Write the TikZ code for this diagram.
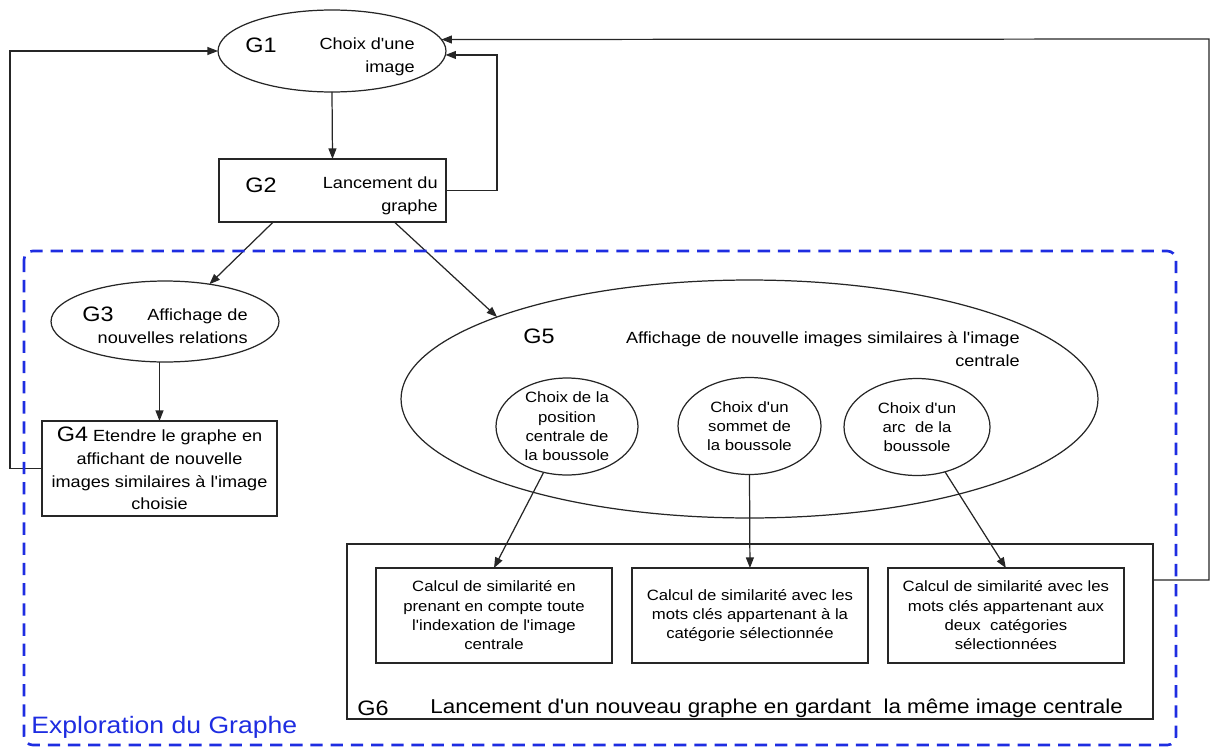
\documentclass[tikz,border=0pt]{standalone}
\usepackage{fontspec}
\setmainfont{Liberation Sans}[FakeStretch=1.12, Ligatures=TeXOff]
\usepackage{tikz}
\usetikzlibrary{shapes.geometric, arrows.meta, positioning}
\definecolor{exploblue}{RGB}{30,45,225}
\tikzstyle{arrow}=[-{Triangle[length=6pt,width=4.5pt]}, line width=0.7pt, color=black!85]
\newcommand{\gidfont}{\fontsize{11.9pt}{14pt}\selectfont}
\newcommand{\descfont}{\fontsize{9.2pt}{13pt}\selectfont}
\newcommand{\choicefont}{\fontsize{8.5pt}{11pt}\selectfont}
\newcommand{\stagefont}{\fontsize{11.4pt}{14pt}\selectfont}
\newcommand{\explofont}{\fontsize{13.5pt}{16pt}\selectfont}

\begin{document}
\begin{tikzpicture}[x=0.02cm, y=-0.02cm,
  stage/.style={rectangle, draw=black!85, line width=0.7pt, inner sep=0pt, outer sep=0pt},
  oval/.style={ellipse, draw=black!85, line width=0.7pt, inner sep=0pt, outer sep=0pt},
  gid/.style={font=\gidfont, inner sep=0pt},
  desc/.style={font=\descfont, inner sep=0pt},
  choice/.style={oval, minimum height=1.94cm},
  choicetxt/.style={font=\choicefont, align=center, inner sep=0pt},
  calcbox/.style={stage, minimum width=4.72cm, minimum height=1.9cm,
                  align=center, font=\choicefont}
]
\useasboundingbox (0,0) rectangle (1213,747);

\node[oval, minimum width=4.56cm, minimum height=1.64cm] (g1) at (332,51) {};
\node[gid, anchor=west] (g1id) at (245,45) {G1};
\node[desc, align=right, anchor=east] (g1txt) at (415,57) {Choix d'une\\image};

\node[stage, minimum width=4.54cm, minimum height=1.26cm] (g2) at (332.5,190.5) {};
\node[gid, anchor=west] (g2id) at (245,185) {G2};
\node[desc, align=right, anchor=east] (g2txt) at (438,196) {Lancement du\\graphe};

\node[oval, minimum width=4.56cm, minimum height=1.62cm] (g3) at (165,321.5) {};
\node[gid, anchor=west] (g3id) at (82,314) {G3};
\node[desc, align=right, anchor=east] (g3txt) at (248,326) {Affichage de\\nouvelles relations};

\node[stage, minimum width=4.7cm, minimum height=1.9cm, align=center, font=\descfont] (g4)
  at (159.5,468.5) {{\gidfont G4} Etendre le graphe en\\affichant de nouvelle\\images similaires à l'image\\choisie};

\node[oval, minimum width=13.94cm, minimum height=4.76cm] (g5) at (749.5,399) {};
\node[gid, anchor=west] (g5id) at (523,336) {G5};
\node[desc, align=right, anchor=east] (g5txt) at (1020,349) {Affichage de nouvelle images similaires à l'image\\centrale};

\node[choice, minimum width=2.84cm] (c1) at (567,426.5) {};
\node[choice, minimum width=2.86cm] (c2) at (749.5,426) {};
\node[choice, minimum width=2.92cm] (c3) at (917,427) {};
\node[choicetxt] (c1txt) at (c1) {Choix de la\\position\\centrale de\\la boussole};
\node[choicetxt] (c2txt) at (c2) {Choix d'un\\sommet de\\la boussole};
\node[choicetxt] (c3txt) at (c3) {Choix d'un\\arc\ \ de la\\boussole};

\node[stage, minimum width=16.12cm, minimum height=3.5cm] (g6) at (750,631.5) {};
\node[calcbox] (b1) at (494,615.5) {Calcul de similarité en\\prenant en compte toute\\l'indexation de l'image\\centrale};
\node[calcbox, right=0.4cm of b1] (b2) {Calcul de similarité avec les\\mots clés appartenant à la\\catégorie sélectionnée};
\node[calcbox, right=0.4cm of b2] (b3) {Calcul de similarité avec les\\mots clés appartenant aux\\deux\ \ catégories\\sélectionnées};
\node[gid, anchor=west] (g6id) at (357,708) {G6};
\node[font=\stagefont, inner sep=0pt, anchor=west] (g6txt) at (430,708) {Lancement d'un nouveau graphe en gardant\ \ la même image centrale};

\coordinate (lft) at (10,51);
\coordinate (rtop) at (1209,39);
\coordinate (rbot) at (1209,580);

\draw[arrow] (g1.south) -- (g2.north);
\draw[arrow] (g2.east) -- ++(51,0) |- (g1.-2);
\draw[arrow] (g2.208) -- (g3.40);
\draw[arrow] (g2.-27) -- (g5.162);
\draw[arrow] (g3.south -| g4.north) -- (g4.north);
\draw[arrow] (g4.west) -| (lft) -- (g1.west);
\draw[arrow] (c1.243) -- (b1.north);
\draw[arrow] (c2.south) -- (b2.north);
\draw[arrow] (c3.-58) -- (b3.north);
\draw[arrow] (rbot -| g6.east) -- (rbot) -- (rtop) -- (g1.6);

\draw[exploblue, line width=1.5pt, dash pattern=on 7pt off 4.5pt, rounded corners=5pt]
  (24,251) rectangle (1176,745);
\node[font=\explofont, text=exploblue, anchor=base west, inner sep=0pt] (explo) at (31,733) {Exploration du Graphe};
\end{tikzpicture}
\end{document}
